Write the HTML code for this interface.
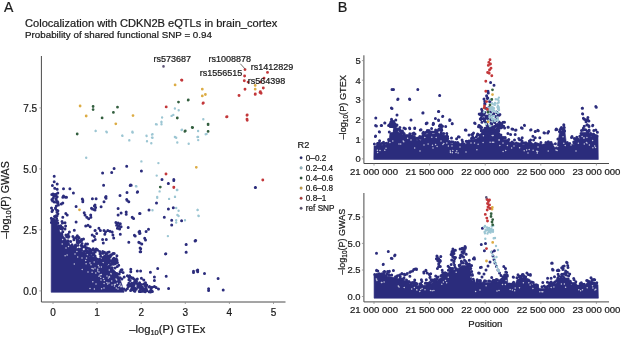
<!DOCTYPE html>
<html><head><meta charset="utf-8"><title>Colocalization</title>
<style>html,body{margin:0;padding:0;background:#fff;width:621px;height:338px;overflow:hidden}svg{display:block;font-family:"Liberation Sans",sans-serif}body{position:relative}svg.ov{position:absolute;left:0;top:0;will-change:transform}</style>
</head><body>
<svg width="621" height="338" viewBox="0 0 621 338">
<rect width="621" height="338" fill="#fff"/>
<path fill="#2b2c7c" stroke="#2b2c7c" stroke-width="0.6" stroke-linejoin="round" d="M51.2 292.3 51.3 222 57 223 60 232 65 238 70 245 80 250 87 255 97 260 107 265 112 268 117 273 120 279 122 285 124 291.5 124 292.3Z"/>
<path fill="#2b2c7c" stroke="#2b2c7c" stroke-width="0.6" stroke-linejoin="round" d="M373.8 159.5 374 147 374 146 380 145.5 386 144.5 389 140.5 390 133 395 131.5 401 132.5 403 134.5 410 134.5 415 135.5 417 140.5 421 140.5 422 134.5 428 134 437 134 440 133.5 444 134.5 447 137.5 450 143 455 144.8 462 145 466 144 468 140 473 139.5 478 138.5 481 133.5 485 129.5 492 129.5 498 130.5 502 139 508 139.5 511 144 520 144.2 525 144.8 540 144.8 545 143.8 551 144 553 147.5 557 147 559.5 132.5 565 132 566.5 144.5 574 144.5 576 139.5 579 139.5 581.5 132.5 589 132 591 136.5 598 136.5 598.3 159.5Z"/>
<path fill="#2b2c7c" stroke="#2b2c7c" stroke-width="0.6" stroke-linejoin="round" d="M374.1 298.2 374.1 284 374 275.5 385 276 395 277.5 400 279 405 280.5 410 283.5 418 285.5 428 285 437 280.5 445 274.5 452 270.5 458 268.5 462 265.5 469 265.5 471 272.5 472 280.5 477 283 488 282.5 492 282 502 281.5 505 274.5 507 274.5 508 284.5 515 284.5 517 279.5 524 277 530 279.5 532 284.5 540 288.5 548 288.5 550 283.5 556 283.5 558 278 569 278 571 285 585 285 588 281.5 592 281.5 594 284.5 598 284.5 598.4 298.2Z"/>
<path fill="none" stroke="#2b2c7c" stroke-width="3.0" stroke-linecap="round" d="M57.5 222.9h0M120.6 271.5h0M138.4 287.2h0M136.3 280.2h0M143 288.3h0M75.5 247.2h0M115.3 263.8h0M57.8 210.9h0M68.1 234.6h0M51.3 218.2h0M139.3 291.4h0M61.9 234.8h0M78.4 236.9h0M101 261.8h0M87.6 252.7h0M142.2 287h0M58.8 225.9h0M142.8 289.2h0M96 249.9h0M86.5 253.1h0M56.5 222.6h0M81.4 248.5h0M70.9 246.3h0M81.7 245h0M151 289.6h0M127.4 275.7h0M54.5 216.6h0M109.2 259.6h0M106.8 262.4h0M59 228.1h0M52.6 210.3h0M81.5 249.9h0M136.3 289.2h0M65.9 234.9h0M129.2 278h0M145.3 291.7h0M60.7 225.8h0M94.2 250.6h0M77.1 239.8h0M56.7 210.2h0M55.5 208h0M128.8 283.2h0M129.7 284.7h0M77.3 242.4h0M142.9 290.9h0M94.5 259h0M138.5 284.6h0M132 287.3h0M113.1 258.9h0M113.5 261.7h0M57.9 213.8h0M108.3 260.6h0M89.8 248.9h0M80.7 250.3h0M134.8 289.1h0M73.9 239.8h0M108.3 259.6h0M94.9 255.7h0M97.1 249.4h0M78.6 249h0M55.1 220.8h0M106.3 260.4h0M112.1 262.7h0M51.5 207.9h0M103.9 260.8h0M69.4 231.9h0M136.3 282.5h0M62.4 222.9h0M51.4 222.6h0M53.9 222.9h0M75.5 245.1h0M103.2 260h0M104.4 260.6h0M128.2 286.8h0M100 253.9h0M79 237.7h0M82.6 246.7h0M117.4 262.4h0M133 278h0M93.2 248.8h0M119.2 273.9h0M51.9 221.5h0M113.1 264.2h0M131.6 284.5h0M91.4 256.5h0M89.4 255h0M124.2 277h0M95.1 256h0M129.1 286.1h0M114.2 264h0M100.7 256.3h0M116.9 273.5h0M136.2 288.8h0M55.2 222.5h0M151.5 291.3h0M100.8 259.7h0M78.9 240.8h0M73.2 246.5h0M68.3 237.3h0M97.5 249.9h0M56 215.7h0M89.1 251.2h0M96.2 248.9h0M131.8 286.5h0M99.7 251.4h0M81.7 240.4h0M91.8 253.3h0M111 255.6h0M104.9 264.6h0M92.9 253.8h0M142.5 288.9h0M86.9 251.1h0M112.1 263.1h0M102.9 253.1h0M87.5 244.1h0M96.9 259h0M104.5 252.2h0M83.5 238.9h0M88.8 248.5h0M65 229.1h0M55.5 208.5h0M128.8 277.1h0M130.8 277.3h0M84.9 245.8h0M125.7 290.3h0M139 285.6h0M89.5 252.9h0M68.3 243.6h0M137 283.6h0M82 243.6h0M54.2 221.4h0M106.3 254.1h0M102 253.2h0M104.5 256.2h0M75.9 237.4h0M55 220.9h0M68.9 236.4h0M117 260.2h0M141.8 286.7h0M53.7 219.3h0M127.4 288.8h0M86 248h0M78 245.3h0M115 268h0M95.2 251.9h0M108.9 262.2h0M131.4 290h0M80.2 250.5h0M100.6 262h0M103.3 253.3h0M127.8 285.2h0M103 260.3h0M78.5 242.7h0M129.2 276.6h0M140.9 291.5h0M142.8 290.2h0M93.6 253.4h0M99 260.7h0M57.3 220.5h0M90.6 250.7h0M136 280.9h0M86 250.1h0M134.5 279.5h0M83.9 251.4h0M132.6 287.7h0M84.4 253.8h0M134.2 290.3h0M85.8 244.1h0M102.7 251.6h0M110.5 264.9h0M92.1 250.1h0M121.1 269.9h0M119 277.8h0M94.7 257.6h0M60.4 228.6h0M77.3 235.7h0M90.3 250.4h0M62.5 227.6h0M62.8 231.7h0M123.1 272.4h0M93.2 254.9h0M120.9 270.6h0M109.4 266h0M57.8 222.9h0M72 244.7h0M117.3 266.5h0M118.7 265.2h0M103.4 258.9h0M81.5 239.5h0M52 211.5h0M93.5 258.2h0M121.9 278.9h0M77.2 240.9h0M112.6 262.1h0M57.9 210.8h0M112.2 262.5h0M74 238.4h0M120.1 277.8h0M103 257.6h0M75.5 246.5h0M65.6 225.9h0M140.5 288.3h0M144.5 288.7h0M120.1 271.7h0M51.8 220.1h0M86.1 250.4h0M57 212.3h0M86.7 247.8h0M56.6 218.4h0M78.1 241.8h0M99.6 258.9h0M81.2 245.5h0M70.7 241.4h0M134.7 291.2h0M129.6 275.7h0M61.7 233.5h0M71.9 245.2h0M134.5 288h0M72.9 236.5h0M142.9 291.3h0M150.5 292h0M130.1 280.6h0M95.3 257.4h0M79.9 241.6h0M112 267.7h0M68 240.7h0M124 289.1h0M108.8 262.7h0M84.8 246.7h0M53.6 221.8h0M128.9 279.7h0M57.1 215.8h0M152.4 291.6h0M67.1 235.5h0M140.4 284.6h0M62 229.1h0M149.1 291.8h0M139.6 282.7h0M122 269.8h0M89.4 253.2h0M150.8 290.4h0M91.2 252.6h0M54.3 222.8h0M52.7 222.6h0M66.6 236.7h0M150.2 291.5h0M115.9 261.8h0M57.9 202.2h0M54.5 195.2h0M51.8 194.6h0M57.4 201.4h0M52.6 201.1h0M51.9 199.6h0M53.8 194.3h0M56.7 202.3h0M55.1 195.2h0M56.2 198.6h0M56.1 194.2h0M57.8 193h0M53.1 198.2h0M52.9 194.1h0M56.3 205.9h0M53.8 196.5h0M56.2 195.9h0M54.3 201.9h0M54.5 195h0M52 200.1h0M58.4 205h0M52.2 199.5h0M54.9 195.5h0M56.2 199.4h0M57.2 196.8h0M58 203.6h0M54.8 194.8h0M54.9 194.7h0M112.6 260.4h0M111.1 263.7h0M103.6 260.6h0M114.2 253.4h0M107.5 252.6h0M111.2 260.7h0M107.9 260.3h0M108.1 260.5h0M106.9 263.7h0M109.1 252h0M104.3 260.7h0M115.1 259.6h0M105.2 262.5h0M113 253.4h0M108.3 260.1h0M103.1 252.5h0M108 262.5h0M116.9 255.8h0M115.7 261.4h0M115.1 259.1h0M116.6 259.7h0M116.3 258.8h0M105.8 258.2h0M109.8 256h0M108.2 258.1h0M111.2 254.7h0M106.9 258h0M110.1 257h0M112.3 254.2h0M110.4 255.3h0M113.8 260.4h0M113.9 258.2h0M106.5 263.1h0M110.2 256.5h0M107.1 256.8h0M112.9 261.8h0M109.8 260.8h0M106 257.4h0M108 255.7h0M108 261.1h0M144.1 284h0M133.1 289.5h0M142.4 288.4h0M142 288.6h0M134 282.6h0M135.9 282.3h0M149.2 287h0M142.7 291.2h0M145.7 284.2h0M135.4 283h0M145.5 289h0M138.7 285.5h0M133.9 286.6h0M143.7 290.5h0M146.7 290.2h0M137.7 286h0M134.9 291.3h0M132 283.5h0M134.2 290.8h0M146.8 285.1h0M146.7 290.5h0M137.4 283.8h0M145 285.6h0M130.6 290.6h0M137.7 285.8h0M141.1 284.4h0M128.4 285.7h0M136.3 282.1h0M136.2 289.2h0M135.3 288.5h0M54.2 176.3h0M54.2 181.8h0M57.2 184h0M52.4 185.5h0M54.7 188.2h0M57.2 189.2h0M63.5 188.8h0M69.9 188.8h0M73.4 192.9h0M63.5 195.9h0M66.5 197.3h0M82.3 199.1h0M92.4 198.8h0M96.1 198.8h0M62.8 197.2h0M65.5 197.2h0M61.3 203.9h0M62.8 203.1h0M82.8 200.2h0M82.8 201.7h0M76.1 206.5h0M95 205h0M92.4 209h0M95 210.1h0M84.2 212.8h0M85 215h0M86.8 217.2h0M88.7 218.7h0M90.9 217.2h0M65.8 213.5h0M67.2 215h0M62.8 217.2h0M62 221.6h0M65 222.8h0M76.1 221.9h0M85.7 226.1h0M88 225.3h0M90.2 226.8h0M74.3 230.2h0M95 230.5h0M126.7 166.3h0M114.1 168.5h0M111.7 172.5h0M102.6 172.9h0M103.6 185.2h0M130.2 185.5h0M127 192.6h0M137.3 192.2h0M120 195.6h0M106 196.6h0M106 198.1h0M126.7 199.6h0M105.5 197.2h0M106 198.3h0M104 201.7h0M127 200.2h0M128.8 201.7h0M94.4 206.1h0M91.5 208.3h0M94.4 209.8h0M95.6 207.6h0M101.1 206.8h0M118.1 208.6h0M121.1 213h0M118.1 215h0M126.2 212h0M126.2 214.2h0M132.2 217.2h0M133.6 218.4h0M139.6 213.5h0M90.7 215h0M115.9 222.4h0M118.1 223.1h0M120.3 223.8h0M116.6 225.3h0M118.8 226h0M117.4 228.3h0M119.6 229h0M121.1 226.8h0M128.2 227.5h0M98.9 228.3h0M100.4 230.5h0M104 230.5h0M105.5 232h0M104.8 234.2h0M107.8 230.5h0M110 231.2h0M112.2 232h0M112.9 235h0M113.7 237.9h0M95.2 230.5h0M96.7 233.5h0M92.2 235h0M94.4 236.4h0M95.2 239.4h0M102.6 239.4h0M106.3 239.4h0M120.3 234.2h0M128.8 242.3h0M134.4 235.2h0M139.6 231.2h0M139.6 233.5h0M138.8 242.3h0M93 240.9h0M103.3 243.1h0M131.2 185.2h0M137.6 191.8h0M168.4 183.6h0M173.8 180.5h0M156.5 203h0M149 210.1h0M140 213.6h0M132.4 217.4h0M133.6 218.4h0M164.3 217.2h0M168.4 208.9h0M173.3 207.7h0M171.7 220.3h0M171.7 225h0M181.6 220.7h0M148.5 229.3h0M146.1 231.6h0M140 233.3h0M139 232.1h0M135.2 235.9h0M144.7 238.3h0M139.5 242.8h0M141.8 244h0M140.7 248.7h0M140.7 251.8h0M165.5 253.9h0M186.1 244.4h0M186.1 252.2h0M195.1 240.9h0M141.4 170.9h0M130.5 185.1h0M162 179.6h0M173.8 179.6h0M168.3 183.4h0M139 242.4h0M141.7 244.1h0M140.1 248.1h0M140.1 251.7h0M145.5 240h0M186.2 244.6h0M186.2 252.2h0M195.1 240.8h0M165.8 253.8h0M157.7 268.5h0M150.4 272.2h0M137.3 270.9h0M140.6 270.9h0M130.8 269.3h0M130.8 271.8h0M193.5 271.3h0M193.5 272.6h0M197.1 270.6h0M166.2 276.2h0M154.4 277.1h0M154.4 280.4h0M132.4 278.3h0M137.3 279.1h0M136.5 281.5h0M141.4 278.3h0M143.8 279.9h0M145.5 282.7h0M131.6 283.2h0M134.1 284.8h0M138.1 284h0M139.8 285.6h0M143.8 284h0M146.3 286.4h0M149.5 286.4h0M152 287.2h0M154.4 286.4h0M156.1 287.6h0M146.3 288.9h0M151.2 288.4h0M139.8 290.5h0M158.5 288.9h0M168.6 288.4h0M131.6 288.9h0M133.3 288h0M255.5 187.5h0M195.7 240.5h0M197.7 270.1h0M197.7 271.8h0M204.5 273.5h0M218.1 278.6h0M208.6 288.8h0M208.6 290.5h0M223.2 289.9h0M255.3 187.6h0M513.9 143.6h0M378.6 143.9h0M510.9 143.1h0M418.8 138.4h0M577.7 138.9h0M505.3 137.8h0M446.1 136.5h0M446.9 135.8h0M508.8 139.5h0M401.4 132.4h0M443.7 133.4h0M455.4 142.6h0M400 129.9h0M427.8 131.9h0M428.6 132.5h0M458.5 144.8h0M552.4 144.4h0M434.3 132.1h0M481.3 130.7h0M386.2 143.3h0M425 132.7h0M548.3 141.8h0M496.8 129.3h0M553.1 147.2h0M432.2 132.1h0M472.7 137.1h0M394.4 130.5h0M421.6 136.9h0M394.9 131.3h0M456.6 143.8h0M487.7 128.8h0M531.2 143.5h0M593.9 136.1h0M488.4 128.3h0M457.3 142.7h0M420.9 138.3h0M454.1 143.7h0M511.7 142.6h0M437.6 133.7h0M588 131.1h0M399.6 130.6h0M493.2 128.9h0M447.6 136.4h0M449.9 141.7h0M588.3 131.1h0M464.1 144.1h0M522.4 142.8h0M474 138.3h0M426.1 132.2h0M476.4 136.7h0M458 143.1h0M380.4 144.9h0M589.2 130.7h0M525.4 143.6h0M479.8 135h0M412.8 133.4h0M529.4 144.2h0M518.4 143.8h0M511.3 143.6h0M488.1 128.7h0M497.3 130.1h0M482.3 130.7h0M404.2 133.7h0M526 143.4h0M512.1 142.1h0M502 138.4h0M473.1 137.4h0M500.9 134.9h0M455.5 143.7h0M591.2 134.4h0M520.2 144h0M511.1 143.9h0M583.2 130h0M537.1 144.1h0M563.5 131.7h0M559.4 131.5h0M377.5 143.5h0M472.6 137.5h0M528.2 143.5h0M567.2 144h0M575.3 140.5h0M379.8 144.7h0M388.8 140.6h0M513.8 143.8h0M409.8 133.8h0M436.4 131.7h0M576.8 137.3h0M595.7 135.4h0M552.3 145.5h0M581.5 130.5h0M538 144.2h0M394.5 129.3h0M497.7 128.9h0M567.1 144.1h0M530.6 143.6h0M550.1 142.8h0M418.1 138.1h0M437 132.1h0M560.2 131.8h0M529.7 143.8h0M424.2 133.8h0M587.7 131.2h0M488.2 128.2h0M380 143.6h0M540.9 142.4h0M454 143.9h0M451.8 141.8h0M521.4 143.4h0M491.5 129.1h0M579.8 136.2h0M487.5 127.5h0M418.3 138.7h0M453.1 142.1h0M395.1 130.8h0M516.4 142.9h0M458.4 143.5h0M422.8 133.3h0M374.4 144h0M430.9 131.9h0M497.7 128.9h0M514.2 143.8h0M548.1 143.2h0M567.3 142.5h0M525.9 142.8h0M471.8 137.9h0M587.4 131.6h0M396.6 130.7h0M488.1 129.1h0M423.5 132.2h0M460.9 144.6h0M415 134.1h0M416.5 138.2h0M494.4 128.8h0M486.8 127.4h0M377.7 143.4h0M418.6 140.4h0M545.9 142.4h0M494.5 129.4h0M549 143.2h0M536.8 144.2h0M502.3 137.4h0M457.2 143.7h0M388.6 139.4h0M528.8 144.4h0M497.4 128.6h0M396.6 129.7h0M569 144.4h0M429.6 133.8h0M430.6 133.8h0M483.6 130.3h0M441.2 132.7h0M457.2 142.9h0M535.9 144.5h0M424.1 134.3h0M447.8 138.6h0M530.2 142.8h0M597.1 136h0M382.2 143.2h0M466.2 141.2h0M461.9 144.2h0M390.3 126.4h0M488.7 126.9h0M471.9 134.5h0M560.1 129.6h0M413.9 132.9h0M573.7 142.1h0M522 141h0M477.3 135h0M428.9 130.5h0M567.7 144.2h0M456.6 138.8h0M593.1 136.5h0M514.5 140h0M562.9 129.4h0M403.3 132.8h0M533.6 140h0M419.8 136.4h0M521.1 140.1h0M378.9 143h0M446.8 133.5h0M449.4 141.4h0M524.2 143.1h0M551.1 142.5h0M496.3 124.8h0M399.9 127.5h0M389.3 132.1h0M379.6 140.8h0M456.6 144h0M462.5 141.8h0M466.9 141.5h0M491.1 127.8h0M590.7 133.5h0M471.5 138.5h0M591 134.7h0M518.8 138.6h0M462.1 140h0M436.4 133.5h0M383.5 142.2h0M569.8 143.5h0M472.7 134.5h0M435.9 133.3h0M490.3 127h0M584.2 126.2h0M427.3 130.6h0M467.2 141.4h0M473.5 133.1h0M441.8 130.3h0M533.1 144.5h0M581 133.4h0M441.5 129.2h0M378.3 143.5h0M402.4 131h0M377.5 145h0M423.8 134h0M394.3 130.7h0M490 128.9h0M557.9 139.1h0M430.4 132.7h0M562.1 132.1h0M540.3 144.3h0M585.6 129.8h0M507.9 133.6h0M396.5 131.5h0M529.4 141.1h0M535.5 143.3h0M485.3 128.6h0M471.9 138.1h0M505.2 137.6h0M435.6 129.9h0M393.2 126.7h0M485 128.3h0M399.7 129.2h0M486.9 124.8h0M457.7 142.5h0M573.9 143h0M593.8 130.4h0M595.8 130h0M431.6 128.5h0M511.1 143h0M597.4 132.3h0M555.4 143.7h0M391.8 126.6h0M413.3 133.8h0M512 143h0M477.6 133.9h0M395.5 127.3h0M397.4 129h0M519.5 139.7h0M383.7 143.9h0M589.1 129.9h0M585 119.6h0M586.9 125.1h0M586.6 120h0M586 121.7h0M583.3 128.2h0M588.8 125.7h0M588.9 121h0M587.9 117.6h0M587.2 124.7h0M564.6 131h0M564.3 127.6h0M563.7 128.9h0M560.9 128.2h0M563.8 131.1h0M564.1 130h0M439.4 125.9h0M442.5 126.3h0M440.7 125.6h0M439.2 129.3h0M439.8 130.1h0M440.6 130.1h0M440.4 126.6h0M441.2 125.1h0M441.5 127.3h0M438.1 130.2h0M441 125h0M445.7 126.4h0M440 125.1h0M438.8 129.3h0M375.6 125.6h0M381.2 125.6h0M384.9 123.1h0M388.6 125.6h0M392.4 121h0M392.4 123h0M392.4 125h0M396.7 125.6h0M405.4 128.7h0M409.8 128.7h0M414.7 128.4h0M420.3 129.9h0M379.3 131.8h0M375.6 136.1h0M427.1 123.1h0M411 120h0M433.6 123.7h0M438.6 120.6h0M449.7 120.6h0M452.2 123.7h0M465.3 130h0M458.4 136.8h0M474.6 123.1h0M478.9 125.6h0M469 134.9h0M504.5 122.3h0M501.4 127.7h0M508.3 127.2h0M512.9 129.2h0M516 130h0M524.5 125.4h0M522.2 128.2h0M530.6 130h0M535.2 131.5h0M538.3 130.8h0M544.5 133.1h0M510.6 134.6h0M515.2 134.6h0M522.2 137.7h0M532.9 136.2h0M535.2 137.7h0M539.8 137.7h0M530.6 140h0M582.5 108.3h0M596.3 107.3h0M582.5 113.8h0M583.4 118.3h0M588 120.2h0M592.6 125.7h0M593.5 134h0M563.8 124.8h0M561.4 127.5h0M556.8 129.4h0M547.7 133h0M571.5 137.6h0M574.3 138.5h0M398 99h0M409.5 99h0M392 108.5h0M397 115h0M375.8 118h0M423 113h0M411 120h0M376.4 126h0M381.6 125.6h0M384.7 123h0M379.5 131.9h0M375.4 136.4h0M404 128h0M409.5 128h0M414.7 128h0M421 129.8h0M397 125h0M392 89.6h0M393.5 89.6h0M417.8 89.6h0M397.7 99.4h0M409.8 99.4h0M439.7 95.6h0M391.4 108h0M439.6 95.6h0M423 112.7h0M438.4 111.4h0M442.6 116.5h0M449.7 119.7h0M452.2 123.5h0M474.8 123.3h0M466 130.3h0M426.3 123.3h0M433.3 123.3h0M422.8 113.1h0M438.8 111.5h0M442.8 116.2h0M435.4 118.5h0M438.5 120h0M450 120h0M452.3 123.8h0M426.2 123.8h0M433.1 124.6h0M475.1 123.5h0M479.2 125.4h0M465.8 130h0M459.2 136.9h0M451.5 138h0M524.4 125.3h0M502.5 126.5h0M508 127.3h0M512 129h0M515.6 130.3h0M521.4 127.8h0M531 129.8h0M535.3 131.6h0M537.8 130.3h0M544 132.8h0M548.6 131.6h0M555.9 129.8h0M595.8 106.4h0M582.2 108.2h0M582.7 114h0M584 119h0M592.8 125.3h0M589 126.5h0M563.8 125.3h0M561.3 127.8h0M556.3 129h0M572 136.6h0M575 139h0M393.5 121.5h0M391.5 119.2h0M395.8 120.1h0M395.9 125.8h0M390.7 125.3h0M390.1 123.8h0M394.9 123.7h0M393.3 124.9h0M390.9 121.9h0M391.6 120.4h0M391.1 123.8h0M393.4 124.6h0M393.8 122.6h0M395.5 124.9h0M490.6 82.4h0M494 85.3h0M488 91.2h0M486.6 95.7h0M484 99h0M485 104h0M488 110h0M482 114h0M481 118h0M490 120h0M497 118h0M499 122h0M486 116h0M489.6 115.5h0M495.8 116.5h0M481.7 115.7h0M492 129.4h0M491 123.2h0M495.9 125.9h0M487.6 118.6h0M492.9 115.3h0M481.9 122.3h0M493.8 113.7h0M491.6 128.5h0M482.2 111.1h0M488.4 115.7h0M496.1 130.9h0M487.6 126.2h0M490.7 112h0M496.5 112h0M481.3 118.4h0M480.3 119.1h0M487 129.9h0M487 127.5h0M493.3 121.5h0M484 115h0M488.4 117.1h0M491 119.6h0M485.5 122h0M496.9 112.7h0M485.7 108.3h0M481.6 109.3h0M487.2 127.2h0M488.9 107.5h0M489.9 101.4h0M488.1 92.2h0M486.7 96.2h0M488.3 93h0M487.8 98h0M487.4 98.5h0M484.7 103.7h0M489.6 101.6h0M484.8 101.6h0M499.1 135.7h0M498.3 115h0M499.1 128.6h0M494.9 134.2h0M498.8 133.7h0M494.7 126.7h0M495.7 120.5h0M498.3 127.6h0M495.3 125.9h0M499.5 126.5h0M499.4 126.5h0M499.9 114.6h0M496.2 126.1h0M498.1 135.3h0M497.4 124.5h0M497.4 125.7h0M497.9 134.8h0M493.1 121h0M499.1 115.3h0M498.5 114.7h0M497.5 131.6h0M494.7 122.4h0M484.1 135.8h0M492.3 133.7h0M486.8 133.3h0M503.8 137.4h0M503.7 126.2h0M491.9 129.1h0M487.3 137.9h0M482.7 132.7h0M498.9 140.6h0M478.5 126.7h0M491.3 140.7h0M482.4 138.7h0M488.7 132.5h0M503.1 122.3h0M486.9 124.3h0M481.6 127.4h0M496.9 133.2h0M481.3 137.8h0M491.7 124h0M500.2 138.2h0M483.9 140.7h0M499.9 125.8h0M478 139.2h0M500.3 123h0M498.7 137.2h0M495.1 138.5h0M504.6 127.9h0M500.5 140.3h0M486.5 135.4h0M496.5 138.8h0M493.3 126.8h0M484.8 132.4h0M481.7 139.1h0M502 126.1h0M496.8 135.1h0M481.3 137.3h0M498.7 127.4h0M480.7 126.9h0M498.8 130.8h0M500 124.4h0M480.9 128.3h0M501.8 124.4h0M480 136.8h0M480.5 135h0M480.3 126.2h0M484.3 120.5h0M482.3 115.4h0M479.2 114.1h0M480.9 119.5h0M484.7 119.4h0M483.3 118.4h0M480 114.6h0M481.3 113.4h0M484.9 112.6h0M481.6 113.4h0M485.9 117.7h0M482.8 114.6h0M500.1 281.1h0M386 275.8h0M451.5 268.9h0M573.2 284.4h0M548.8 285.4h0M494.4 280.5h0M383.5 275.8h0M523.5 275.4h0M459.2 265.3h0M557.7 278.2h0M389 275.2h0M520.6 277.7h0M383.8 274.7h0M381.7 274h0M514.1 283.8h0M473.8 280.8h0M415.6 284.5h0M556.7 280.4h0M534.3 284.8h0M554.7 282h0M520.5 277.3h0M499.8 281.1h0M592.1 280h0M493.3 280.3h0M396.4 277.1h0M425.7 283h0M376.9 274.5h0M568.6 276h0M535 285.3h0M426 283.3h0M440.9 275.8h0M452.4 268.5h0M502.4 278.6h0M594.8 283.6h0M595 284.5h0M570.5 283.2h0M496.1 280.8h0M546.5 287.7h0M420.6 283.4h0M497.3 279.8h0M483.6 282.6h0M546.7 288h0M479.7 282.9h0M432 281.3h0M545.2 286.9h0M473.3 279.3h0M523.8 276.5h0M493.9 280.4h0M537.2 286.6h0M443.6 274.7h0M395.5 276.8h0M537.4 285.8h0M412.7 282.4h0M400.2 277.2h0M407.1 281.5h0M430.4 282.5h0M434.5 279.5h0M584.2 284.3h0M542 286.8h0M499.7 281h0M586.7 280.6h0M376.9 274.8h0M445.9 273.5h0M470.4 268.1h0M379.4 273.7h0M443.2 275.8h0M575.5 284.3h0M421.5 285h0M456.3 268.8h0M414.3 283.9h0M503.5 276.8h0M442.3 275.2h0M547.4 286.7h0M450.9 268.8h0M551.2 282.1h0M480.5 282h0M404 278h0M510.3 284.3h0M581.3 282.8h0M381.5 274.1h0M427.4 283.7h0M560.9 277.1h0M485.6 280.9h0M417.1 283.7h0M469.3 263.9h0M416 283.2h0M383.2 275.2h0M400.4 278.7h0M492.3 281.5h0M552 283.3h0M513.6 282.3h0M402.4 279.2h0M545.3 287.3h0M582.8 284.2h0M463.1 263.1h0M451 268.6h0M573.6 284.5h0M496.3 279.4h0M400.3 277h0M547.4 286.6h0M508.6 284.3h0M588.7 281.2h0M549.5 282.9h0M445.1 272.7h0M466 263.6h0M383.7 273.6h0M460.1 264.9h0M479.6 280.8h0M441.5 275.8h0M379.6 274.5h0M391.7 274.9h0M525.7 276.7h0M592.2 279.5h0M588.3 281.3h0M531.7 282h0M509.7 284.5h0M580.9 283.9h0M507.3 275.3h0M435.6 281.1h0M580.8 284.3h0M383.2 275.6h0M596.8 282.7h0M421 285h0M575.1 283.3h0M504.6 275.1h0M466.6 263.1h0M374.7 274.5h0M386.8 273.8h0M397.4 275.8h0M562.4 276.2h0M383.5 274.2h0M484.4 281.4h0M406.5 280.1h0M553.7 283.2h0M570.3 281.3h0M433.6 281.6h0M477 281.4h0M501.6 279.3h0M488.6 281.1h0M595.5 284h0M377.7 274.8h0M444.2 274.8h0M467.7 265.4h0M580.3 283.8h0M570.9 282.7h0M537.5 285.3h0M441.6 275.3h0M420.2 284h0M507.4 276.1h0M411.6 283h0M558.6 276h0M593.1 282.8h0M421.1 285.1h0M536.1 284.7h0M519.2 276.8h0M489.6 280.9h0M580.3 283.4h0M520.9 276.6h0M484.6 280.8h0M502.3 280.6h0M469.4 264.4h0M470.8 268.4h0M455 267.2h0M469.6 265.5h0M591.7 281.1h0M377.8 270.9h0M462.5 262.8h0M506.6 272.4h0M427.6 285h0M569.7 274.1h0M438 276.9h0M446.5 273.4h0M574 279.4h0M428 283.6h0M530.4 275.2h0M479.2 280.7h0M426.3 279.7h0M567.4 272.2h0M399.6 275.1h0M594.7 279.8h0M476.9 282.2h0M387.6 271.6h0M389.4 271.2h0M523.1 274.5h0M573.7 278.6h0M512.1 284.1h0M505.8 272h0M429.9 277.6h0M537.6 286.7h0M425.3 283.2h0M502.3 278.9h0M472.5 275.3h0M414.7 280h0M448.1 266.2h0M587.2 280.6h0M509.8 284h0M465.9 261.5h0M516.9 277.7h0M381.6 275.3h0M499.5 280.8h0M442.6 272.4h0M575.8 281.8h0M431 279.8h0M435.7 275.9h0M408.9 281.5h0M472.3 274.4h0M411.1 282.8h0M403.5 279h0M448.4 270.2h0M544.2 286.1h0M480.4 280.5h0M547.4 282.3h0M469.3 260.2h0M430.1 277.1h0M491.7 277.6h0M459.4 266h0M404.3 274.2h0M454.5 265.1h0M477.2 279.7h0M420.3 284.5h0M449.3 267.6h0M495.7 281.8h0M533.2 282.5h0M389.4 275.3h0M421.4 279.8h0M497.2 279.9h0M429.7 282.6h0M436.7 278.7h0M551.1 278.2h0M530.4 274.4h0M520.5 277.7h0M384 275.2h0M431.8 279.8h0M558.1 274.3h0M470.3 268.6h0M593.9 279.4h0M450.4 271.2h0M593.9 283.1h0M563.9 277.5h0M520.3 276.3h0M573.1 283.4h0M396.6 277h0M554.5 276.7h0M518 274.7h0M437.2 278.9h0M393.4 270.4h0M383.7 272.1h0M452.4 269.4h0M471.7 271.4h0M429.5 283.4h0M454.1 261.1h0M453.6 251.6h0M455.4 250.2h0M451.9 252.8h0M453.6 257.5h0M453.8 262.5h0M455.5 257.4h0M451.2 264.6h0M451.1 254.4h0M451.7 260h0M465.3 248.3h0M461.4 261.3h0M464.5 248h0M464.5 260.3h0M462.3 248.8h0M464.3 251.7h0M460.1 249h0M462.2 248.3h0M462.1 255.9h0M463.4 253.3h0M465.4 247.6h0M461.6 262.8h0M566.2 275.1h0M565.6 270.9h0M565.7 271.3h0M561.7 267.8h0M561.6 274.6h0M562.9 269.5h0M564.2 266.1h0M565.2 273.8h0M565.8 274.7h0M562.9 266.6h0M565.6 272.6h0M563.2 268.8h0M561.9 274.2h0M563.8 273.9h0M437.7 260.5h0M438.6 266.4h0M440.4 260.9h0M439.5 261.7h0M440.3 266.6h0M438.8 261.1h0M437.4 268.4h0M440 260.3h0M436.4 258.7h0M440.8 256.5h0M376.5 253.3h0M388.3 251.5h0M395 255h0M392 258.4h0M383.2 264.4h0M376.5 270.4h0M384.3 271.5h0M388.3 272h0M401.6 274h0M405 274.8h0M407 274h0M410.5 271.7h0M413.8 269.5h0M416.5 269.5h0M423.8 272h0M426 270.4h0M465 246.6h0M463.8 250h0M460.5 255.5h0M452.7 251h0M452.7 256.6h0M437.2 256.6h0M438.8 263.3h0M473.4 258.8h0M471.6 265.5h0M479.3 273.3h0M429.4 274.4h0M462 252h0M454 253.5h0M437.5 259h0M551.6 263.3h0M553.1 270h0M558.2 270h0M513.2 277h0M528.3 274.4h0M552.2 263.3h0M552.7 270h0M566.6 262.2h0M567.7 265.5h0M558.9 270.4h0M591 277.7h0M481.3 244.5h0M485.5 243.5h0M484.4 250.7h0M494.4 250.7h0M474.5 259h0M481.3 267.3h0M482.4 228.2h0M394.6 255.7h0M391.3 258.3h0M383.3 264.3h0M376.6 270.3h0M384.6 271.6h0M388.6 272.3h0M401.9 273.6h0M404.6 275h0M407.2 273.6h0M409.9 272.3h0M412.6 271h0M415.2 269h0M416.5 269h0M409.9 276.3h0M425.9 270.3h0M423.9 273h0M427.2 273h0M421.9 281.6h0M414.5 282.3h0M465.3 247.1h0M464.4 249.8h0M462.6 252.4h0M460.9 255.1h0M460 257.8h0M463.5 256.9h0M466.2 254.2h0M452.9 248.9h0M452 251.5h0M452.9 254.2h0M453.8 256.9h0M454.6 258.7h0M436.9 256h0M438.7 258.7h0M439.5 262.2h0M438.7 264h0M474.2 257.8h0M480.4 267.5h0M478.6 272.9h0M430.7 273.7h0M442.2 270.2h0M444.9 272.9h0M503.8 266.6h0M505.5 268.4h0M513.5 277.3h0M522.4 274.6h0M526.9 272.9h0M530.4 274.6h0M542.8 282.6h0M552 263.1h0M567.1 262.7h0M552.5 269.3h0M557.3 270.6h0M568 267.5h0M547.6 278.2h0M591 277.7h0M493 256h0M494 259.5h0M495 263h0M496.5 266.5h0M498 270h0M499.5 273h0M501 275.5h0M492 252h0M490 262h0M488 266h0M486 270h0M484 274h0M482 277h0"/>
<path fill="none" stroke="#fff" stroke-opacity="0.75" stroke-width="1.5" stroke-linecap="round" d="M88 272h0M95 268h0M101 280h0M107 276h0M112 285h0M116 279h0M104 288h0M96 284h0M118 289h0M121 286h0M90 263h0M82 258h0M75 254h0M99 272h0M109 283h0M66 248h0M399 144h0M411 140h0M424 145h0M433 148h0M441 141h0M452 146h0M460 147h0M471 143h0M503 143h0M514 146h0M538 147h0M556 150h0M571 145h0M587 143h0M420 151h0M466 152h0M528 153h0M437.1 146.6h0M548.2 151.1h0M442.9 144.5h0M483.1 142.4h0M456 152.4h0M526.6 150.1h0M499.8 145.4h0M492.4 142.2h0M377.6 152.6h0M533.1 150.3h0M563 136.7h0M450.3 151h0M557.1 150.6h0M594.7 146h0M386 148.2h0M392.8 140.9h0M446.8 142.9h0M474.5 143h0M576 151h0M498.9 139.9h0M443.8 143.5h0M452.3 152.8h0M586.4 142.4h0M557.7 146.4h0M403.2 141h0M403.8 141.7h0M592.9 147.8h0M586.9 137.4h0M424.8 137.5h0M436.2 137.6h0M492.2 135.5h0M524.2 150.7h0M507.4 145.5h0M537.7 151.4h0M533.1 150.2h0M478.1 144.3h0M384.8 150.2h0M511.6 148.1h0M565.2 145.5h0M563.8 143.3h0M483.4 135.8h0M435.6 144.4h0M592.6 140.6h0M377.4 150.2h0M452.8 150.6h0M400.7 143.9h0M450.4 152.4h0M448.4 146.1h0M414.7 148.1h0M505.7 150.6h0M389.9 142.4h0M537.3 152.9h0M582.1 136.5h0M458.1 153h0M493.7 142.3h0M431.8 137.3h0M584.2 138h0M499.3 140h0M503.1 151.4h0M584.3 144.1h0M432.5 145.2h0M380 150.4h0M583.7 137.9h0M456.8 150.8h0M428.1 144.1h0M519.6 147.7h0M578.4 143.2h0M529.2 149.6h0M407.6 138.3h0M595.5 147.5h0M476.9 149.7h0M589.4 145.1h0M493.2 135.4h0M490.1 142.3h0M536.7 151.3h0M561.4 283.9h0M499 290.6h0M419.8 291.5h0M381.4 282.6h0M502.5 284.4h0M578.8 289.8h0M416.7 289.8h0M506.1 280.5h0M376.6 279.3h0M532.9 288.5h0M432.2 290.8h0M565.6 287.2h0M414.4 287.6h0M541.9 291.8h0M456.2 272.2h0M470.9 276.9h0M505.4 284.4h0M422.1 288.6h0M528.8 282.8h0M425 289.8h0M592.9 287.9h0M445.5 280.5h0M411.7 289h0M530.1 284.9h0M551.2 287.5h0M398.3 285.9h0M475.6 291.5h0M399.1 287h0M523.4 282.8h0M404.2 287.6h0M542.8 291.7h0M480 290.1h0M510.1 289.4h0M416.9 290h0M497 291h0M594.9 290h0M448.3 277.2h0M514.7 290.8h0M430.5 290.4h0M595.8 289.3h0M582.5 289.7h0M519.5 287.7h0M420.7 289.6h0M592.5 285.7h0M443.4 282.1h0M539.9 291.8h0M580.6 290.7h0M376.3 279.1h0M384.1 282h0M381.9 282.5h0M515.2 288.1h0M564.4 283.9h0M587.2 287.8h0M512.4 289.9h0M433.9 290.5h0M376.9 280.4h0M446.6 282.8h0M486.1 285.8h0M441.8 284.2h0M553.9 287.1h0M97.8 269.3h0M86.1 263.7h0M82.2 269.4h0M104.3 280.4h0M95.8 272.9h0M68.5 246.4h0M100.2 274.7h0M91 264.7h0M74.3 264h0M86.5 257.9h0M77.7 257.1h0M65.1 255.8h0M103.5 278.5h0M62.2 243.9h0M67.1 254.9h0M99.2 276h0M98.4 265.5h0M62.6 239.5h0M100.7 277.3h0M85.7 260.6h0M101.4 267h0M76.9 251.5h0M104.1 283.6h0M117.3 283.3h0M116.3 287.9h0M92.8 281.7h0M97.7 271h0M101.6 288.7h0M92.1 272.3h0M94.4 288.9h0M106.9 282.4h0M107.7 284h0M101.4 274.5h0M115.3 284.3h0M120.2 283.9h0M118.8 286.3h0M109.5 276.9h0M109.3 270h0M93.3 269.1h0M94.2 262h0M114.4 284.5h0M110.9 273.4h0M114.5 286.1h0M111.1 273.9h0M109.2 276.5h0M99.1 266.9h0M119.4 285.6h0M121.7 286.6h0M99 276.2h0M92 268.4h0M108.4 278h0M120.9 286.8h0M111.7 281h0M116.7 279.9h0M90 288.4h0"/>
<path fill="none" stroke="#9cc6d3" stroke-width="2.4" stroke-linecap="round" d="M86.2 157.7h0M95.6 131h0M95.7 130.9h0M106.3 131.6h0M122.2 135.6h0M129.3 140.4h0M106.8 132.2h0M122.4 135.9h0M132.7 132.5h0M129.3 140.3h0M174.9 108.5h0M178.7 110.2h0M173.3 114.9h0M171.6 115.9h0M162.1 117.5h0M161.4 122h0M156.7 124.4h0M132.3 132.2h0M122.4 135.7h0M146.5 135.7h0M152 134.6h0M152 137.6h0M174.9 137h0M182 129.8h0M198.1 131h0M198.1 136.9h0M132.4 131.8h0M146.6 136.1h0M152.5 134.2h0M152.5 137.8h0M147 141.3h0M151.3 143.2h0M156 124.3h0M161.5 121.9h0M161.5 124.3h0M176.2 137.8h0M177.3 142.5h0M181.6 130h0M188.7 143.7h0M197.5 137h0M198.2 140.1h0M205.7 134.2h0M141.4 161.4h0M158.4 163.1h0M156.7 175.6h0M135.9 186.3h0M157.2 196.9h0M175 196.9h0M177.3 190h0M136.4 186.4h0M159.6 191.4h0M157.2 197.8h0M169.1 198.9h0M175 196.6h0M176.9 190h0M176.2 208h0M178.6 210.8h0M177.4 215h0M178.6 216h0M176.2 220.3h0M176.2 222.6h0M185 220.3h0M197.5 210h0M198.7 216h0M167.9 236.1h0M152.5 210.3h0M136.2 186.2h0M203.3 119.3h0M206.5 133.9h0M197.7 209.9h0M198.4 215.7h0M497.7 99.4h0M495 103h0M498 106h0M493 109h0M496 112h0M491 114h0M494 116h0M499 110h0M492 119h0M488 121h0M495 121h0M484 112h0M486 124h0M490 126h0M498.1 120.5h0M492.4 111.2h0M497.4 103.4h0M490.1 99.6h0M493 116.2h0M488.9 107.8h0M498.9 109h0M491.6 118h0M497.7 106.4h0M488.5 112.9h0M495.9 120.1h0M494.9 104.7h0M493.2 104.2h0M492.4 108.7h0M497.9 119.6h0M498.1 109h0M498.6 100.5h0M498.1 113h0M497.5 107.3h0M498.9 97.6h0M497.2 117.5h0M491.5 117.7h0M489.6 115.8h0M492.6 107.3h0M489.4 117h0M495.8 99.2h0M498.7 102.5h0M491.5 107.4h0M493.9 119.3h0M498.3 112.8h0M491.4 99.7h0M487.8 110h0M494 108.2h0M498.8 107.3h0M491.2 107.5h0M489.1 120.5h0M494.1 110.6h0M492.1 103.3h0M490.8 109.3h0M492.4 121.5h0M492.1 229.8h0M489.5 229.9h0M488.1 230h0M484.9 233.3h0M485 226.2h0M490.7 230.8h0M492.1 231.2h0M493.3 225.5h0M484.1 227.1h0M491.8 226.4h0M489.3 231.9h0M485.6 229.7h0M493 231.7h0M488 229.3h0M485 226h0M487 227.5h0M489 228h0M491 229h0M493 230h0M486 230.5h0M488.5 231.5h0M490.5 232.5h0M484.6 232h0M487.5 233.5h0M485.3 238.8h0M495 238h0M488.6 231h0M493.7 238.3h0M492.7 255h0M494 258h0M495 261h0M496 264h0M497 267h0M498 270h0M499 271.4h0M494.5 262h0M496.5 257h0M491 252h0M496 246h0M498 250h0"/>
<path fill="none" stroke="#335f3f" stroke-width="2.8" stroke-linecap="round" d="M93.1 106.5h0M93.1 109.6h0M102.1 117.9h0M113.4 112.4h0M117.5 107.2h0M77.2 134h0M188.2 100.2h0M178.5 102.1h0M177.3 118h0M185.3 131h0M192.2 127.5h0M184.9 131.4h0M192.7 127.6h0M208.1 124.7h0M208.1 131.4h0M160.3 187.1h0M188.3 99.9h0M208.1 124.1h0M492.5 89.8h0M491.8 99.4h0M490 105h0M488 112h0M491.2 213.7h0M492.7 219.6h0M492.7 224.8h0M491 216.5h0M492 222h0"/>
<path fill="none" stroke="#dcac45" stroke-width="2.8" stroke-linecap="round" d="M80.1 106h0M86.2 116h0M115.8 123.8h0M175.1 84.9h0M133 115.6h0M202.3 89.2h0M202.3 95.9h0M205.4 94.5h0M196.3 167.3h0M255.2 85.4h0M255.2 89.2h0M79.5 209.8h0M492.5 94.6h0M484 108h0M488 121.8h0M492 209.2h0M492.3 207.5h0M492.7 242.4h0M486.5 261h0"/>
<path fill="none" stroke="#c3373a" stroke-width="2.9" stroke-linecap="round" d="M181.5 80.1h0M166.2 106.9h0M166 174h0M173.8 187.5h0M173.8 187.1h0M245 69.6h0M244.6 76h0M244.3 80.7h0M248.1 82.1h0M267.5 72.4h0M264 78.3h0M260.4 82.1h0M263.3 88h0M260.4 91.6h0M261.1 93.2h0M255.2 94.4h0M245 89.2h0M239.1 95.6h0M203 103.4h0M181.9 80.2h0M226.6 116.9h0M247 115.2h0M247 119.3h0M203.3 103h0M227 116.7h0M247.2 115h0M247.2 120.2h0M239 95.5h0M255.3 93.9h0M260 92.6h0M262.8 180h0M490 59.7h0M488.8 62.4h0M488.3 65.4h0M491 68.3h0M487.6 72.5h0M489.2 73.2h0M491.8 75.7h0M489.5 70h0M490.5 64h0M485.8 81.3h0M485.8 91.2h0M486.6 101.6h0M484.5 106h0M484.4 107.8h0M487.3 109.2h0M487 199.5h0M488.5 201.5h0M487.5 203.5h0M489.5 205h0M488 207h0M490 208.5h0M487.2 210h0M485.3 214.4h0M486.8 218.1h0M487.5 221h0M486.5 248.6h0M489.5 200h0"/>
<path fill="none" stroke="#5d5478" stroke-width="2.6" stroke-linecap="round" d="M163.5 66.4h0M486.3 197.4h0"/>
<g stroke="#4a4a4a" stroke-width="1" fill="none">
<path d="M41.4 56V302H285.5"/>
<path d="M363.9 55.3V163.5H609"/>
<path d="M363.9 193V301.9H609"/>
</g>
<path stroke="#8a8a8a" stroke-width="0.8" d="M53 302v2M97.1 302v2M141.2 302v2M185.3 302v2M229.4 302v2M273.5 302v2M41.4 290.9h-2M41.4 229.9h-2M41.4 168.9h-2M41.4 107.9h-2M374 163.5v2M374 301.9v2M429.6 163.5v2M429.6 301.9v2M485.2 163.5v2M485.2 301.9v2M540.8 163.5v2M540.8 301.9v2M596.4 163.5v2M596.4 301.9v2M363.9 158.8h-2M363.9 139.2h-2M363.9 119.5h-2M363.9 99.9h-2M363.9 80.2h-2M363.9 60.6h-2M363.9 296.5h-2M363.9 270h-2M363.9 243.4h-2M363.9 216.9h-2"/>
</svg>
<svg class="ov" width="621" height="338" viewBox="0 0 621 338"><g font-family="Liberation Sans, sans-serif" fill="#1a1a1a" stroke="#1a1a1a" stroke-width="0.22"><text x="4" y="11.7" font-size="14" text-anchor="start">A</text><text x="337.8" y="11.8" font-size="14.4" text-anchor="start">B</text><text x="25" y="27.2" font-size="11.1" text-anchor="start">Colocalization with CDKN2B eQTLs in brain_cortex</text><text x="25" y="38.4" font-size="9.8" text-anchor="start">Probability of shared functional SNP = 0.94</text><text x="37.2" y="294.5" font-size="10" text-anchor="end">0.0</text><text x="37.2" y="233.5" font-size="10" text-anchor="end">2.5</text><text x="37.2" y="172.5" font-size="10" text-anchor="end">5.0</text><text x="37.2" y="111.5" font-size="10" text-anchor="end">7.5</text><text x="53" y="316" font-size="10" text-anchor="middle">0</text><text x="97.1" y="316" font-size="10" text-anchor="middle">1</text><text x="141.2" y="316" font-size="10" text-anchor="middle">2</text><text x="185.3" y="316" font-size="10" text-anchor="middle">3</text><text x="229.4" y="316" font-size="10" text-anchor="middle">4</text><text x="273.5" y="316" font-size="10" text-anchor="middle">5</text><text x="167.3" y="332.8" font-size="11.2" text-anchor="middle">–log<tspan font-size="7.5" dy="2.5">10</tspan><tspan dy="-2.5">(P) GTEx</tspan></text><text transform="translate(8.6 200) rotate(-90)" font-size="10.6" text-anchor="middle">–log<tspan font-size="7.5" dy="2.5">10</tspan><tspan dy="-2.5">(P) GWAS</tspan></text><text x="153.5" y="61.7" font-size="9" text-anchor="start">rs573687</text><text x="208.6" y="61.8" font-size="9" text-anchor="start">rs1008878</text><text x="199.8" y="76" font-size="9" text-anchor="start">rs1556515</text><text x="250.8" y="70" font-size="9" text-anchor="start">rs1412829</text><text x="247.8" y="83.8" font-size="9" text-anchor="start">rs564398</text><path d="M240.3 63.7L245 68.9" stroke="#333" stroke-width="0.7"/><text x="297.6" y="147.5" font-size="9.2" text-anchor="start">R2</text><circle cx="301.1" cy="157.8" r="1.3" fill="#2b2c7c"/><text x="305.8" y="160.7" font-size="8.2" text-anchor="start">0–0.2</text><circle cx="301.1" cy="167.9" r="1.3" fill="#9cc6d3"/><text x="305.8" y="170.8" font-size="8.2" text-anchor="start">0.2–0.4</text><circle cx="301.1" cy="178" r="1.3" fill="#335f3f"/><text x="305.8" y="180.9" font-size="8.2" text-anchor="start">0.4–0.6</text><circle cx="301.1" cy="188.1" r="1.3" fill="#dcac45"/><text x="305.8" y="191" font-size="8.2" text-anchor="start">0.6–0.8</text><circle cx="301.1" cy="198.2" r="1.3" fill="#c3373a"/><text x="305.8" y="201.1" font-size="8.2" text-anchor="start">0.8–1</text><circle cx="301.1" cy="208.3" r="1.3" fill="#5d5478"/><text x="305.8" y="211.2" font-size="8.2" text-anchor="start">ref SNP</text><text x="360.6" y="162.1" font-size="9.4" text-anchor="end">0</text><text x="360.6" y="142.5" font-size="9.4" text-anchor="end">1</text><text x="360.6" y="122.8" font-size="9.4" text-anchor="end">2</text><text x="360.6" y="103.2" font-size="9.4" text-anchor="end">3</text><text x="360.6" y="83.5" font-size="9.4" text-anchor="end">4</text><text x="360.6" y="63.9" font-size="9.4" text-anchor="end">5</text><text x="360.6" y="299.8" font-size="9.4" text-anchor="end">0.0</text><text x="360.6" y="273.3" font-size="9.4" text-anchor="end">2.5</text><text x="360.6" y="246.8" font-size="9.4" text-anchor="end">5.0</text><text x="360.6" y="220.2" font-size="9.4" text-anchor="end">7.5</text><text x="374" y="175.2" font-size="9.6" text-anchor="middle">21 000 000</text><text x="374" y="313.2" font-size="9.6" text-anchor="middle">21 000 000</text><text x="429.6" y="175.2" font-size="9.6" text-anchor="middle">21 500 000</text><text x="429.6" y="313.2" font-size="9.6" text-anchor="middle">21 500 000</text><text x="485.2" y="175.2" font-size="9.6" text-anchor="middle">22 000 000</text><text x="485.2" y="313.2" font-size="9.6" text-anchor="middle">22 000 000</text><text x="540.8" y="175.2" font-size="9.6" text-anchor="middle">22 500 000</text><text x="540.8" y="313.2" font-size="9.6" text-anchor="middle">22 500 000</text><text x="596.4" y="175.2" font-size="9.6" text-anchor="middle">23 000 000</text><text x="596.4" y="313.2" font-size="9.6" text-anchor="middle">23 000 000</text><text x="485.4" y="326.6" font-size="9.6" text-anchor="middle">Position</text><text transform="translate(345.8 107.3) rotate(-90)" font-size="9.2" text-anchor="middle">–log<tspan font-size="6.5" dy="2.2">10</tspan><tspan dy="-2.2">(P) GTEX</tspan></text><text transform="translate(345.2 241.7) rotate(-90)" font-size="9" text-anchor="middle">–log<tspan font-size="6.5" dy="2.2">10</tspan><tspan dy="-2.2">(P) GWAS</tspan></text></g></svg>
</body></html>
